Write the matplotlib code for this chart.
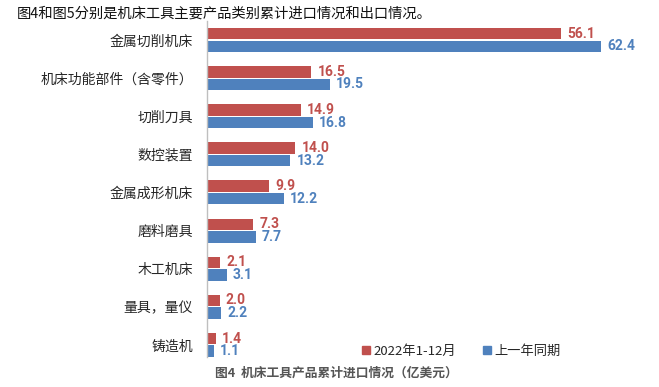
import numpy as np
import matplotlib.pyplot as plt
from matplotlib.patches import Patch

plt.rcParams['font.family'] = ['Noto Sans CJK SC', 'DejaVu Sans']

categories = ["金属切削机床", "机床功能部件（含零件）", "切削刀具", "数控装置",
              "金属成形机床", "磨料磨具", "木工机床", "量具，量仪", "铸造机"]
values_2022 = [56.1, 16.5, 14.9, 14.0, 9.9, 7.3, 2.1, 2.0, 1.4]
values_prev = [62.4, 19.5, 16.8, 13.2, 12.2, 7.7, 3.1, 2.2, 1.1]
series_names = ["2022年1-12月", "上一年同期"]

red = "#C0504D"
blue = "#4F81BD"

fig = plt.figure(figsize=(6.59, 3.87), dpi=100)
ax = fig.add_axes([0.3141, 0.0775, 0.67, 0.8682])

y = np.arange(len(categories))
h = 0.30
off = 0.165
ax.barh(y - off, values_2022, height=h, color=red)
ax.barh(y + off, values_prev, height=h, color=blue)

for yi, v in zip(y, values_2022):
    ax.text(v + 1.0, yi - off, f"{v:.1f}", va="center", ha="left",
            color=red, fontsize=10, fontweight="bold", family="Roboto")
for yi, v in zip(y, values_prev):
    ax.text(v + 1.0, yi + off, f"{v:.1f}", va="center", ha="left",
            color=blue, fontsize=10, fontweight="bold", family="Roboto")

ax.set_xlim(0, 70)
ax.set_ylim(8.32, -0.5)
ax.set_yticks(y)
ax.set_yticklabels(categories, fontsize=10, color="#262626")
ax.set_xticks([])
ax.tick_params(axis="y", length=0, pad=10)
for s in ["top", "right", "bottom"]:
    ax.spines[s].set_visible(False)
ax.spines["left"].set_color("#BFBFBF")
ax.spines["left"].set_linewidth(1.0)

handles = [Patch(color=red), Patch(color=blue)]
fig.legend(handles, series_names, loc="center", bbox_to_anchor=(0.700, 0.092),
           ncol=2, frameon=False, fontsize=9.5, handlelength=0.6, handleheight=0.6,
           handletextpad=0.3, columnspacing=2.0, labelcolor="#262626")

fig.text(0.026, 0.965, "图4和图5分别是机床工具主要产品类别累计进口情况和出口情况。",
         fontsize=10.3, color="#111111", va="center", ha="left")
fig.text(0.511, 0.036, "图4  机床工具产品累计进口情况（亿美元）",
         fontsize=9.2, color="#555555", va="center", ha="center", fontweight="bold")

fig.savefig("out.png", dpi=100)
